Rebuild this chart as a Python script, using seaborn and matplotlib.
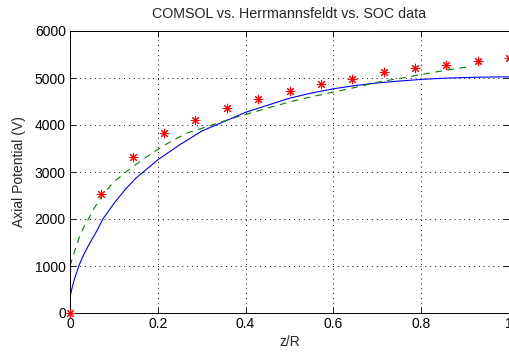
import matplotlib
matplotlib.use("Agg")
import matplotlib.pyplot as plt
import seaborn as sns
import pandas as pd
import numpy as np

# COMSOL (blue solid)
comsol_z = [0, 0.005, 0.01, 0.02, 0.03, 0.04, 0.05, 0.06, 0.075, 0.1, 0.125, 0.15,
            0.167, 0.2, 0.25, 0.3, 0.35, 0.4, 0.45, 0.5, 0.55, 0.6, 0.65, 0.7,
            0.75, 0.8, 0.85, 0.9, 0.95, 1.0]
comsol_v = [330, 550, 720, 1000, 1220, 1400, 1570, 1730, 2000, 2330, 2620, 2870,
            3000, 3260, 3580, 3870, 4070, 4270, 4420, 4570, 4680, 4770, 4840, 4895,
            4935, 4970, 4995, 5010, 5020, 5025]

# Herrmannsfeldt (green dashed)
herr_z = [0, 0.01, 0.02, 0.03, 0.042, 0.055, 0.07, 0.085, 0.1, 0.13, 0.16, 0.2,
          0.235, 0.27, 0.31, 0.35, 0.38, 0.45, 0.5, 0.55, 0.6, 0.65, 0.7, 0.75,
          0.8, 0.85, 0.915]
herr_v = [1000, 1300, 1580, 1800, 2000, 2230, 2450, 2630, 2790, 3020, 3230, 3480,
          3680, 3840, 3960, 4080, 4170, 4360, 4490, 4600, 4700, 4800, 4910, 4990,
          5075, 5155, 5250]

# SOC data (red asterisks)
soc_z = [0, 1/14, 2/14, 3/14, 4/14, 5/14, 6/14, 7/14, 8/14, 9/14, 10/14, 11/14,
         12/14, 13/14, 1.0]
soc_v = [0, 2530, 3320, 3820, 4110, 4355, 4550, 4720, 4880, 4985, 5120, 5215,
         5285, 5355, 5435]

x_ticks = [0, 0.2, 0.4, 0.6, 0.8, 1]
x_tick_labels = ["0", "0.2", "0.4", "0.6", "0.8", "1"]
y_ticks = [0, 1000, 2000, 3000, 4000, 5000, 6000]
y_tick_labels = ["0", "1000", "2000", "3000", "4000", "5000", "6000"]

sns.set_style("ticks")
plt.rcParams['font.family'] = ['Liberation Sans', 'DejaVu Sans']

fig = plt.figure(figsize=(5.10, 3.56), dpi=100)
ax = fig.add_axes([70/510, 1-313/356, (509-70)/510, (313-31)/356])

df_c = pd.DataFrame({"z": comsol_z, "v": comsol_v})
df_h = pd.DataFrame({"z": herr_z, "v": herr_v})
df_s = pd.DataFrame({"z": soc_z, "v": soc_v})

sns.lineplot(data=df_c, x="z", y="v", ax=ax, color=(0, 0, 1), lw=0.8, sort=True)
sns.lineplot(data=df_h, x="z", y="v", ax=ax, color=(0, 0.5, 0), lw=0.8,
             linestyle=(0, (6, 5)), sort=True)
sns.scatterplot(data=df_s, x="z", y="v", ax=ax, color=(1, 0, 0),
                marker=(8, 2, 0), s=38, linewidth=0.75, clip_on=False, zorder=5)

ax.set_xlim(0, 1)
ax.set_ylim(0, 6000)
ax.set_xticks(x_ticks)
ax.set_xticklabels(x_tick_labels)
ax.set_yticks(y_ticks)
ax.set_yticklabels(y_tick_labels)
ax.grid(True, linestyle=(0, (1, 4)), color="black", linewidth=0.7)
ax.tick_params(direction="in", length=4, width=0.6, top=True, right=True,
               labelsize=10, colors="black", pad=3)
for s in ax.spines.values():
    s.set_visible(True)
    s.set_color("black")
    s.set_linewidth(0.7)

ax.set_xlabel("z/R", fontsize=10, labelpad=3)
ax.set_ylabel("Axial Potential (V)", fontsize=10, labelpad=6)
ax.set_title("COMSOL vs. Herrmannsfeldt vs. SOC data", fontsize=10.3, pad=9)

fig.savefig("out.png", dpi=100)
